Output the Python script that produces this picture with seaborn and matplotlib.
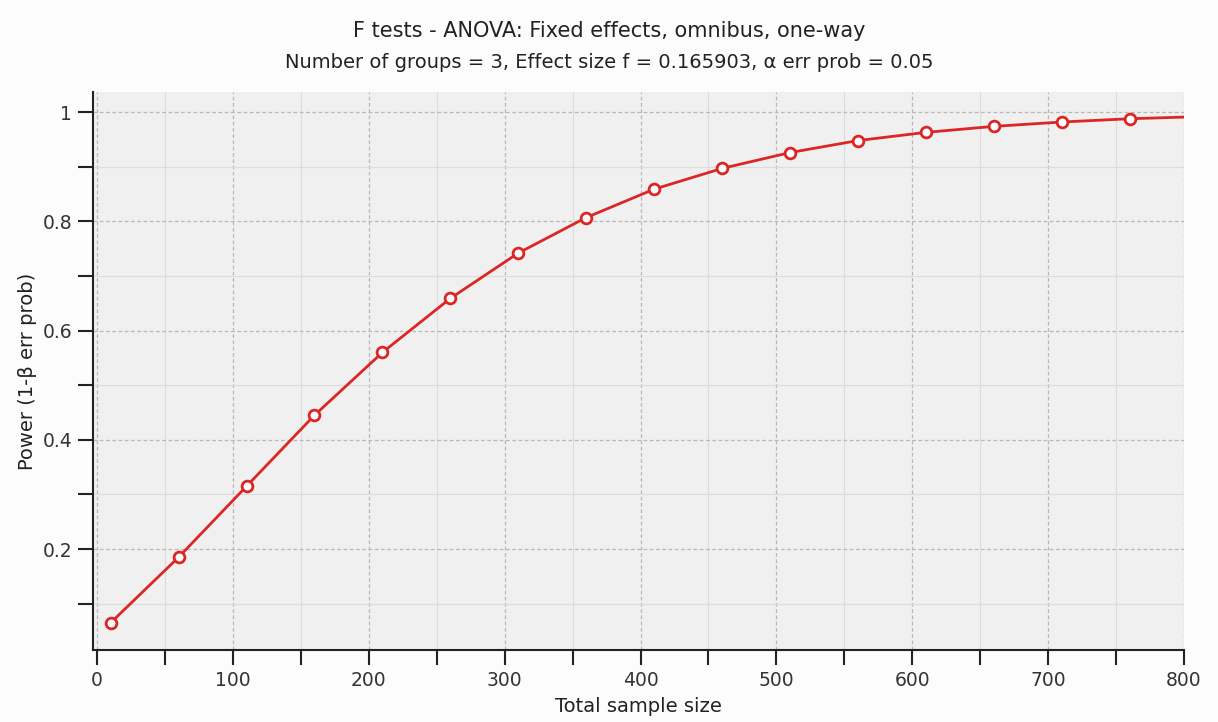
import matplotlib
matplotlib.use("Agg")
import matplotlib.pyplot as plt
from matplotlib.ticker import MultipleLocator
import seaborn as sns
import pandas as pd

# Data
sample_size = [10, 60, 110, 160, 210, 260, 310, 360, 410, 460, 510, 560, 610, 660, 710, 760]
power = [0.065, 0.185, 0.315, 0.445, 0.560, 0.659, 0.742, 0.807, 0.859, 0.897,
         0.926, 0.948, 0.963, 0.974, 0.982, 0.988]
curve_x = sample_size + [800]
curve_y = power + [0.991]

title_1 = "F tests - ANOVA: Fixed effects, omnibus, one-way"
title_2 = "Number of groups = 3, Effect size f = 0.165903, α err prob = 0.05"
x_label = "Total sample size"
y_label = "Power (1-β err prob)"

sns.set_theme(style="white")
plt.rcParams['font.family'] = ['DejaVu Sans']

red = "#dc2626"
fig = plt.figure(figsize=(12.18, 7.22), dpi=100, facecolor="#fcfcfc")
ax = fig.add_axes([0.0764, 0.0997, 0.8956, 0.7729])
ax.set_facecolor("#f0f0f0")

curve = pd.DataFrame({"n": curve_x, "p": curve_y})
pts = pd.DataFrame({"n": sample_size, "p": power})
sns.lineplot(data=curve, x="n", y="p", ax=ax, color=red, linewidth=2, zorder=3)
sns.scatterplot(data=pts, x="n", y="p", ax=ax, s=60, facecolor="white",
                edgecolor=red, linewidth=2, zorder=4)

ax.set_xlim(-3, 800)
ax.set_ylim(0.015, 1.037)
ax.xaxis.set_major_locator(MultipleLocator(100))
ax.xaxis.set_minor_locator(MultipleLocator(50))
ax.yaxis.set_major_locator(MultipleLocator(0.2))
ax.yaxis.set_minor_locator(MultipleLocator(0.1))
ax.set_yticks([0.2, 0.4, 0.6, 0.8, 1.0])
ax.set_yticklabels(["0.2", "0.4", "0.6", "0.8", "1"])

ax.grid(which="major", color="#b8b8b8", linestyle=(0, (3, 2)), linewidth=0.9)
ax.grid(which="minor", color="#dcdcdc", linestyle="-", linewidth=0.8)
ax.set_axisbelow(True)

for s in ["top", "right"]:
    ax.spines[s].set_visible(False)
for s in ["left", "bottom"]:
    ax.spines[s].set_color("#222222")
    ax.spines[s].set_linewidth(1.5)

ax.tick_params(which="both", direction="out", color="#222222", width=1.5,
               length=11, labelsize=13.5, labelcolor="#333333", pad=4,
               bottom=True, left=True)

ax.set_xlabel(x_label, fontsize=14, color="#222222", labelpad=5)
ax.set_ylabel(y_label, fontsize=14, color="#222222", labelpad=4)

fig.text(0.5, 0.957, title_1, ha="center", va="center", fontsize=15, color="#222222")
fig.text(0.5, 0.914, title_2, ha="center", va="center", fontsize=14, color="#222222")

fig.savefig("out.png", dpi=100, facecolor=fig.get_facecolor())
